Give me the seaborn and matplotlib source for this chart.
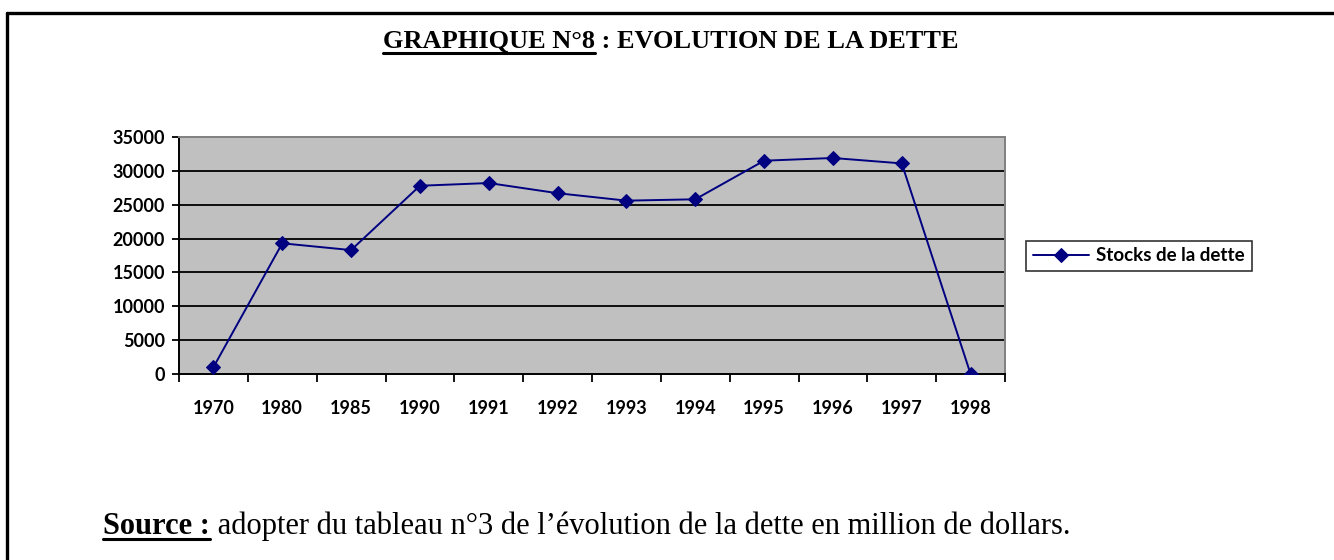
import pandas as pd
import seaborn as sns
import matplotlib.pyplot as plt
from matplotlib.lines import Line2D
from matplotlib.ticker import FixedLocator

# data (million dollars)
years = ['1970', '1980', '1985', '1990', '1991', '1992', '1993', '1994',
         '1995', '1996', '1997', '1998']
stock = [1000, 19300, 18300, 27800, 28200, 26700, 25600, 25800,
         31500, 31900, 31100, 0]
y_ticks = [0, 5000, 10000, 15000, 20000, 25000, 30000, 35000]

series_name = 'Stocks de la dette'
title_a = 'GRAPHIQUE N°8'
title_b = ' : EVOLUTION DE LA DETTE'
source_a = 'Source :'
source_b = ' adopter du tableau n°3 de l’évolution de la dette en million de dollars.'

df = pd.DataFrame({'annee': years, 'stock': stock, 'serie': series_name})

sns.set_style('white')
plt.rcParams['font.family'] = ['Lato', 'DejaVu Sans']
plt.rcParams['text.color'] = 'black'
plt.rcParams['xtick.color'] = 'black'
plt.rcParams['ytick.color'] = 'black'

W, H = 1334, 560
fig = plt.figure(figsize=(W / 100, H / 100), dpi=100)
ax = fig.add_axes([179 / W, 1 - 374 / H, (1005 - 179) / W, (374 - 137) / H])
ax.set_facecolor('#c0c0c0')

# grid lines first so the line sits on top
for v in y_ticks[1:-1]:
    ax.axhline(v, color='black', lw=1.3, zorder=1)

sns.lineplot(data=df, x='annee', y='stock', hue='serie', palette=['#000080'],
             marker='D', markersize=7.5, markeredgecolor='#000080',
             linewidth=1.4, sort=False, ax=ax, zorder=3)

n = len(years)
ax.set_xlim(-0.5, n - 0.5)
ax.set_ylim(0, 35000)
ax.set_yticks(y_ticks)
ax.set_yticklabels([str(v) for v in y_ticks])
ax.set_xticks(range(n))
ax.set_xticklabels(years)
ax.xaxis.set_minor_locator(FixedLocator([i - 0.5 for i in range(n + 1)]))
ax.tick_params(axis='x', which='major', length=0, pad=19)
ax.tick_params(axis='x', which='minor', length=6, width=1.3, direction='out', color='black', bottom=True)
ax.tick_params(axis='y', length=5, width=1.3, direction='out', color='black', left=True, pad=5)
for lab in ax.get_xticklabels() + ax.get_yticklabels():
    lab.set_fontsize(13)
    lab.set_fontweight('bold')
    lab.set_color('black')
ax.set_xlabel('')
ax.set_ylabel('')

for s in ['left', 'bottom']:
    ax.spines[s].set_color('black')
    ax.spines[s].set_linewidth(1.4)
for s in ['top', 'right']:
    ax.spines[s].set_color('#808080')
    ax.spines[s].set_linewidth(1.4)

leg = ax.legend(handles=ax.get_legend().legend_handles, labels=[series_name],
                loc='center left', bbox_to_anchor=(1026 / W, 1 - 256 / H),
                bbox_transform=fig.transFigure, borderaxespad=0,
                frameon=True, fancybox=False,
                edgecolor='black', handlelength=3.0, borderpad=0.35,
                handletextpad=0.4, prop={'weight': 'bold', 'size': 13.5})
leg.get_frame().set_linewidth(1.2)
for h in leg.legend_handles:
    h.set_marker('D')
    h.set_markersize(7.5)
    h.set_linewidth(1.4)
for t in leg.get_texts():
    t.set_color('black')

# page frame: top rule and left rule
fig.add_artist(Line2D([7 / W, 1], [1 - 13 / H, 1 - 13 / H], transform=fig.transFigure, color='black', lw=2.4))
fig.add_artist(Line2D([7 / W, 7 / W], [0, 1 - 13 / H], transform=fig.transFigure, color='black', lw=2.4))

fig.canvas.draw()
r = fig.canvas.get_renderer()

def underlined_pair(x0, y0, first, second, size, bold_second):
    t1 = fig.text(x0, y0, first, family='Liberation Serif', weight='bold', size=size,
                  ha='left', va='baseline', color='black')
    bb = t1.get_window_extent(r).transformed(fig.transFigure.inverted())
    t2 = fig.text(bb.x1, y0, second, family='Liberation Serif',
                  weight='bold' if bold_second else 'normal', size=size,
                  ha='left', va='baseline', color='black')
    uy = y0 - 5 / H
    fig.add_artist(Line2D([bb.x0, bb.x1], [uy, uy], transform=fig.transFigure, color='black', lw=2.2))
    return t1, t2

underlined_pair(383 / W, 1 - 48 / H, title_a, title_b, 19, True)
underlined_pair(103 / W, 1 - 534 / H, source_a, source_b, 22, False)

fig.savefig('out.png', dpi=100)
